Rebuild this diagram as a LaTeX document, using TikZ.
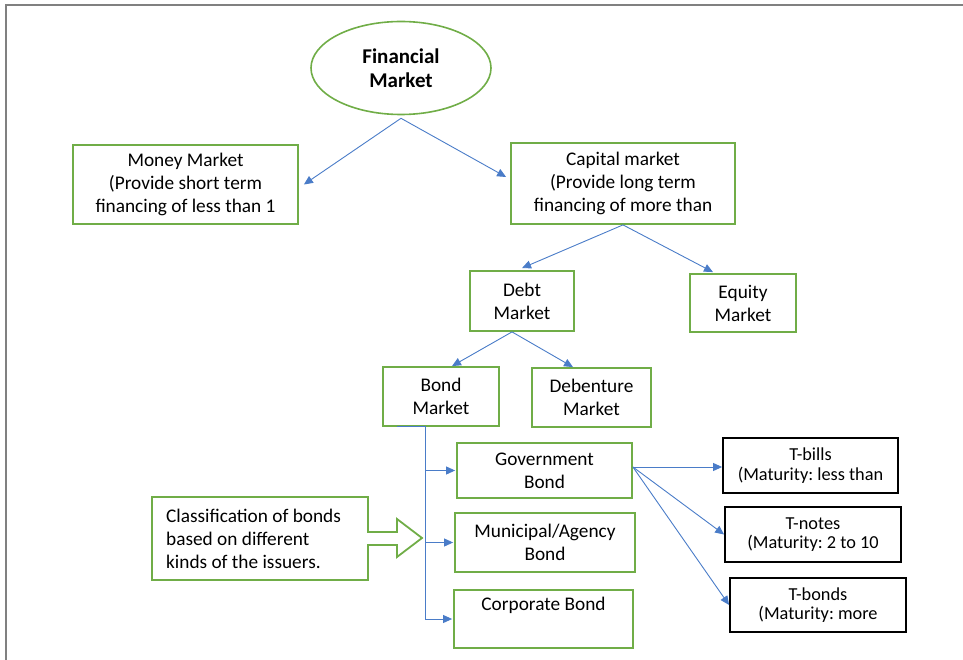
\documentclass[tikz,border=0pt]{standalone}
\usepackage{fontspec}
\setmainfont{Carlito}
\usetikzlibrary{arrows.meta,shapes.geometric}
\definecolor{gr}{HTML}{70AD47}
\definecolor{bl}{HTML}{4A7CC8}
\definecolor{fr}{HTML}{808080}
\newcommand\myg{\fontsize{19.3}{23}\selectfont}
\newcommand\myk{\fontsize{18.3}{19.5}\selectfont}
\newcommand\myt{\fontsize{21}{24.5}\selectfont\bfseries}
\frenchspacing
\tikzset{
  gbox/.style={draw=gr, line width=1.8pt, align=center, inner sep=0pt, font=\myg},
  kbox/.style={draw=black, line width=1.8pt, align=center, inner sep=0pt, font=\myk},
  conn/.style={draw=bl, line width=0.9pt, -{Triangle[length=9pt,width=8pt]}},
  trunkline/.style={draw=bl, line width=0.9pt},
}
\begin{document}
\begin{tikzpicture}[x=1pt,y=-1pt]
\useasboundingbox (0,0) rectangle (963,660);
\draw[fr, line width=1.5pt] (6,660) -- (6,5) -- (963,5);

\node[draw=gr, line width=1.6pt, ellipse, minimum width=180pt, minimum height=93pt, inner sep=0pt, align=center, font=\myt] (fm) at (401,68) {Financial\\Market};

\node[gbox, minimum width=225pt, minimum height=79pt] (money) at (185.5,184.5) {Money Market\\(Provide short term\\financing of less than 1};
\node[gbox, minimum width=224pt, minimum height=81pt] (capital) at (623,183.5) {Capital market\\(Provide long term\\financing of more than};
\node[gbox, minimum width=104pt, minimum height=60pt] (debt) at (522,301) {Debt\\Market};
\node[gbox, minimum width=106pt, minimum height=58pt] (equity) at (743,303) {Equity\\Market};
\node[gbox, minimum width=116pt, minimum height=59pt] (bond) at (441,396.5) {Bond\\Market};
\node[gbox, minimum width=119pt, minimum height=59pt] (deb) at (591.5,397.5) {Debenture\\Market};
\node[gbox, minimum width=175pt, minimum height=55pt] (gov) at (544.5,470.5) {Government\\Bond};
\node[gbox, minimum width=180pt, minimum height=59pt] (muni) at (545,542.5) {Municipal/Agency\\Bond};
\node[gbox, minimum width=179pt, minimum height=58pt] (corp) at (543.5,619) {Corporate Bond\\\strut};
\node[kbox, minimum width=175pt, minimum height=55pt] (tbills) at (810.5,465.5) {T-bills\\(Maturity: less than};
\node[kbox, minimum width=176pt, minimum height=55pt] (tnotes) at (813,534.5) {T-notes\\(Maturity: 2 to 10};
\node[kbox, minimum width=176pt, minimum height=54pt] (tbonds) at (818,605) {T-bonds\\(Maturity: more};

% classification callout
\draw[gr, line width=1.8pt, line join=miter] (152,497) -- (368,497) -- (368,532) -- (397,532) -- (397,519) -- (422,538) -- (397,557) -- (397,545) -- (368,545) -- (368,580) -- (152,580) -- cycle;
\node[align=left, anchor=west, inner sep=0pt, font=\myg] (cls) at (166,539) {Classification of bonds\\based on different\\kinds of the issuers.};

% connectors
\draw[conn] ([yshift=-3pt]fm.south) -- ([xshift=5pt]money.east);
\draw[conn] ([yshift=-3pt]fm.south) -- ([xshift=-4pt,yshift=6.5pt]capital.west);
\draw[conn] (capital.south) -- ([yshift=2pt]debt.north);
\draw[conn] (capital.south) -- ([xshift=-30pt,yshift=1pt]equity.north);
\draw[conn] ([xshift=-10pt]debt.south) -- ([xshift=11pt]bond.north);
\draw[conn] ([xshift=-10pt]debt.south) -- ([xshift=-18.5pt]deb.north);

\coordinate (bstart) at ([xshift=-44pt]bond.south);
\coordinate (trunk) at ([xshift=-16pt]bond.south);
\draw[trunkline] (bstart) -- (trunk) -- (trunk |- corp.west);
\draw[conn] (trunk |- gov.west) -- ([xshift=-1pt]gov.west);
\draw[conn] (trunk |- muni.west) -- ([xshift=-1pt]muni.west);
\draw[conn] (trunk |- corp.west) -- ([xshift=-1pt]corp.west);

\coordinate (gs) at ([yshift=3.5pt]gov.east);
\draw[conn] (gs) -- (tbills.west |- gs);
\draw[conn] (gs) -- (tnotes.west);
\draw[conn] (gs) -- (tbonds.west);
\end{tikzpicture}
\end{document}
